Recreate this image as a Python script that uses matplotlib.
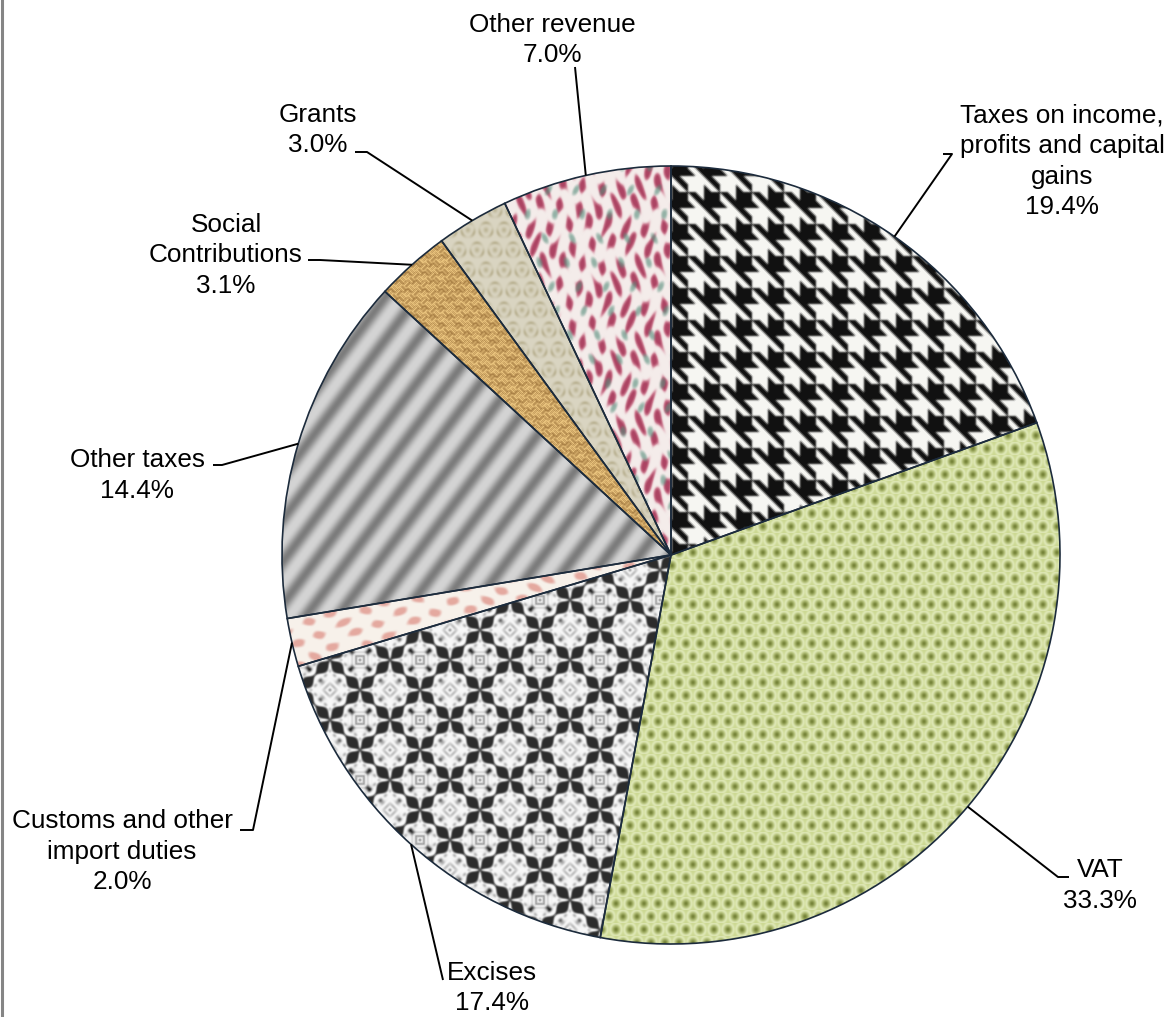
import numpy as np
import matplotlib.pyplot as plt

# revenue structure, % of total
labels = ['Taxes on income,\nprofits and capital\ngains', 'VAT', 'Excises',
          'Customs and other\nimport duties', 'Other taxes', 'Social\nContributions',
          'Grants', 'Other revenue']
shares = [19.4, 33.3, 17.4, 2.0, 14.4, 3.1, 3.0, 7.0]
pct_text = ['{:.1f}%'.format(s) for s in shares]

plt.rcParams['font.family'] = ['Liberation Sans', 'DejaVu Sans']

W, H = 1175, 1017
fig = plt.figure(figsize=(W / 100, H / 100), dpi=100)
ax = fig.add_axes([0, 0, 1, 1])

cx, cy, r = 671, 555, 389
# y axis is flipped below, so start at -90 and go "counterclock" -> clockwise from 12 o'clock
wedges, _ = ax.pie(shares, center=(cx, cy), radius=r, startangle=-90, counterclock=True,
                   wedgeprops=dict(edgecolor='#1c2b3c', linewidth=1.2, facecolor='none', zorder=3))

# ---- fabric-like fills, built on the pixel grid of the pie's bounding box ----
x0, x1 = cx - r - 4, cx + r + 4
y0, y1 = cy - r - 4, cy + r + 4
X, Y = np.meshgrid(np.arange(x0, x1) + 0.5, np.arange(y0, y1) + 0.5)


def soften(a, n=1):
    for _ in range(n):
        a = (a + np.roll(a, 1, 0) + np.roll(a, -1, 0) + np.roll(a, 1, 1) + np.roll(a, -1, 1)) / 5
    return a


def mix(c0, c1, t):
    c0 = np.array(c0, float) / 255
    c1 = np.array(c1, float) / 255
    return c0 + (c1 - c0) * t[..., None]


def blend(img, c1, t):
    c1 = np.array(c1, float) / 255
    return img + (c1 - img) * t[..., None]


def step(x, lo, hi):
    t = np.clip((x - lo) / (hi - lo), 0, 1)
    return t * t * (3 - 2 * t)


# houndstooth
P, h = 32, 16
u, v = X % P, Y % P
A, B = u < h, v < h
diag = ((u - v) % h) < h / 2
hound = soften(((A & B) | ((A ^ B) & diag)).astype(float), 2)
tex_taxes = mix((246, 246, 242), (18, 18, 18), hound)

# green knit with olive drops
row = np.floor(Y / 13)
du = ((X - (row % 2) * 7) % 14) - 7
dv = (Y % 13) - 6.5
d2 = du ** 2 + (dv * 0.9) ** 2
dots = np.exp(-d2 / 10)
hl = np.exp(-(np.sqrt(d2) - 5.5) ** 2 / 2.5)
tex_vat = mix((204, 216, 146), (234, 242, 200), 0.7 * hl)
tex_vat = blend(tex_vat, (108, 122, 46), 0.9 * dots)

# black/white damask on a diagonal lattice
p = (X + Y) / 2
q = (X - Y) / 2
a = ((p + 15) % 30) - 15
b = ((q + 15) % 30) - 15
big = ((np.round(p / 30) + np.round(q / 30)) % 2) == 0
M = np.maximum(np.abs(a), np.abs(b))
mn = np.minimum(np.abs(a), np.abs(b))
wob = 1.8 * np.cos(np.pi * mn / 7.5)
band = step(M, 11.8 + wob, 13.6 + wob)
L1 = np.abs(a) + np.abs(b)
centre_big = np.exp(-(L1 / 7) ** 2) * (0.5 + 0.5 * np.cos(2 * np.pi * L1 / 4))
centre_small = np.exp(-(a ** 2 + b ** 2) / 22) * (0.5 + 0.5 * np.cos(2 * np.pi * M / 3.5))
spikes = np.exp(-(mn / 1.8) ** 2) * step(M, 5, 8) * (1 - step(M, 10, 12))
ringg = np.exp(-((M - 9.5) / 1.0) ** 2) * (0.5 + 0.5 * np.cos(2 * np.pi * mn / 5))
I = 1 - 0.9 * band - 0.35 * ringg - np.where(big, 0.6 * centre_big + 0.7 * spikes,
                                             0.5 * centre_small + 0.35 * spikes)
I = soften(np.clip(I, 0.05, 1), 1)
tex_exc = mix((22, 22, 22), (250, 250, 250), I)

# pale floral, pinkish
m = np.sin(0.18 * X + 1.5 * np.sin(0.07 * Y)) * np.sin(0.28 * Y + 0.6 * np.sin(0.11 * X))
pink = soften(np.clip((m - 0.2) / 0.5, 0, 1), 1)
tex_cus = mix((247, 241, 234), (222, 145, 135), 0.75 * pink)

# diagonal grey stripes
s = X + 0.75 * Y
st = 0.5 + 0.5 * np.cos(2 * np.pi * s / 32)
tex_oth = mix((212, 212, 212), (124, 124, 124), st ** 1.4)

# tan basket weave
a2 = (X + Y) / np.sqrt(2)
b2 = (X - Y) / np.sqrt(2)
blk = ((np.floor(a2 / 6) + np.floor(b2 / 6)) % 2).astype(bool)
weave = np.where(blk, (a2 % 3) < 1.1, (b2 % 3) < 1.1).astype(float)
tex_soc = mix((232, 194, 124), (132, 90, 38), 0.75 * soften(weave, 1))

# beige damask
row = np.floor(Y / 20)
uu = ((X + (row % 2) * 9) % 18) - 9
vv = (Y % 20) - 10
dd = np.sqrt(uu ** 2 + (vv * 0.9) ** 2)
arcs = np.exp(-((dd - 6.5) / 1.4) ** 2) * (0.6 + 0.4 * np.sin(np.arctan2(vv, uu) * 3))
core = np.exp(-(dd / 2.5) ** 2)
tex_gra = mix((218, 213, 194), (168, 158, 120), soften(0.7 * arcs + 0.6 * core, 1))

# white floral with crimson streaks and teal bits
s1 = np.sin(0.33 * X + 1.4 * np.sin(0.08 * Y))
s2 = np.sin(0.16 * Y + 0.9 * np.sin(0.27 * X))
mag = soften(np.clip((s1 * s2 - 0.05) / 0.55, 0, 1), 2)
s3 = np.sin(0.23 * X + 1.3 + 1.5 * np.sin(0.06 * Y + 1)) * np.sin(0.13 * Y + 2)
teal = soften(np.clip((s3 - 0.65) / 0.3, 0, 1), 1)
tex_rev = mix((244, 236, 234), (216, 136, 156), np.clip(1.6 * mag, 0, 1) * 0.75)
tex_rev = blend(tex_rev, (160, 45, 80), 0.8 * mag ** 2)
tex_rev = blend(tex_rev, (84, 140, 122), 0.6 * teal)

fills = [tex_taxes, tex_vat, tex_exc, tex_cus, tex_oth, tex_soc, tex_gra, tex_rev]
for w, tex in zip(wedges, fills):
    im = ax.imshow(np.clip(tex, 0, 1), extent=(x0, x1, y1, y0), interpolation='bilinear', zorder=1)
    im.set_clip_path(w)

# ---- labels with leader lines ----
# (centre x, first baseline y, leader stub points)
layout = [
    (1062, 123, [(943, 154), (952, 154)]),
    (1100, 877, [(1069, 877), (1058, 877)]),
    (492, 980, [(443, 980)]),
    (122, 828, [(240, 830), (253, 830)]),
    (137, 467, [(213, 465), (222, 465)]),
    (226, 232, [(308, 260), (320, 260)]),
    (318, 122, [(355, 152), (367, 152)]),
    (552, 32, [(575, 67)]),
]
line_gap = 30.5
for w, lab, pct, (tx, ty, stub) in zip(wedges, labels, pct_text, layout):
    rows = lab.split('\n') + [pct]
    for k, txt in enumerate(rows):
        ax.text(tx, ty + k * line_gap, txt, ha='center', va='baseline', fontsize=18.8,
                color='black', zorder=5)
    th = np.deg2rad((w.theta1 + w.theta2) / 2)
    ex, ey = cx + r * np.cos(th), cy + r * np.sin(th)
    xs = [pt[0] for pt in stub] + [ex]
    ys = [pt[1] for pt in stub] + [ey]
    ax.plot(xs, ys, color='black', lw=1.4, zorder=4, solid_capstyle='butt')

# frame edge on the left
ax.plot([1.5, 1.5], [0, H], color='#858585', lw=2.2, zorder=6)

ax.set_xlim(0, W)
ax.set_ylim(H, 0)
ax.set_aspect('equal')
ax.axis('off')

fig.savefig('out.png', dpi=100, facecolor='white')
